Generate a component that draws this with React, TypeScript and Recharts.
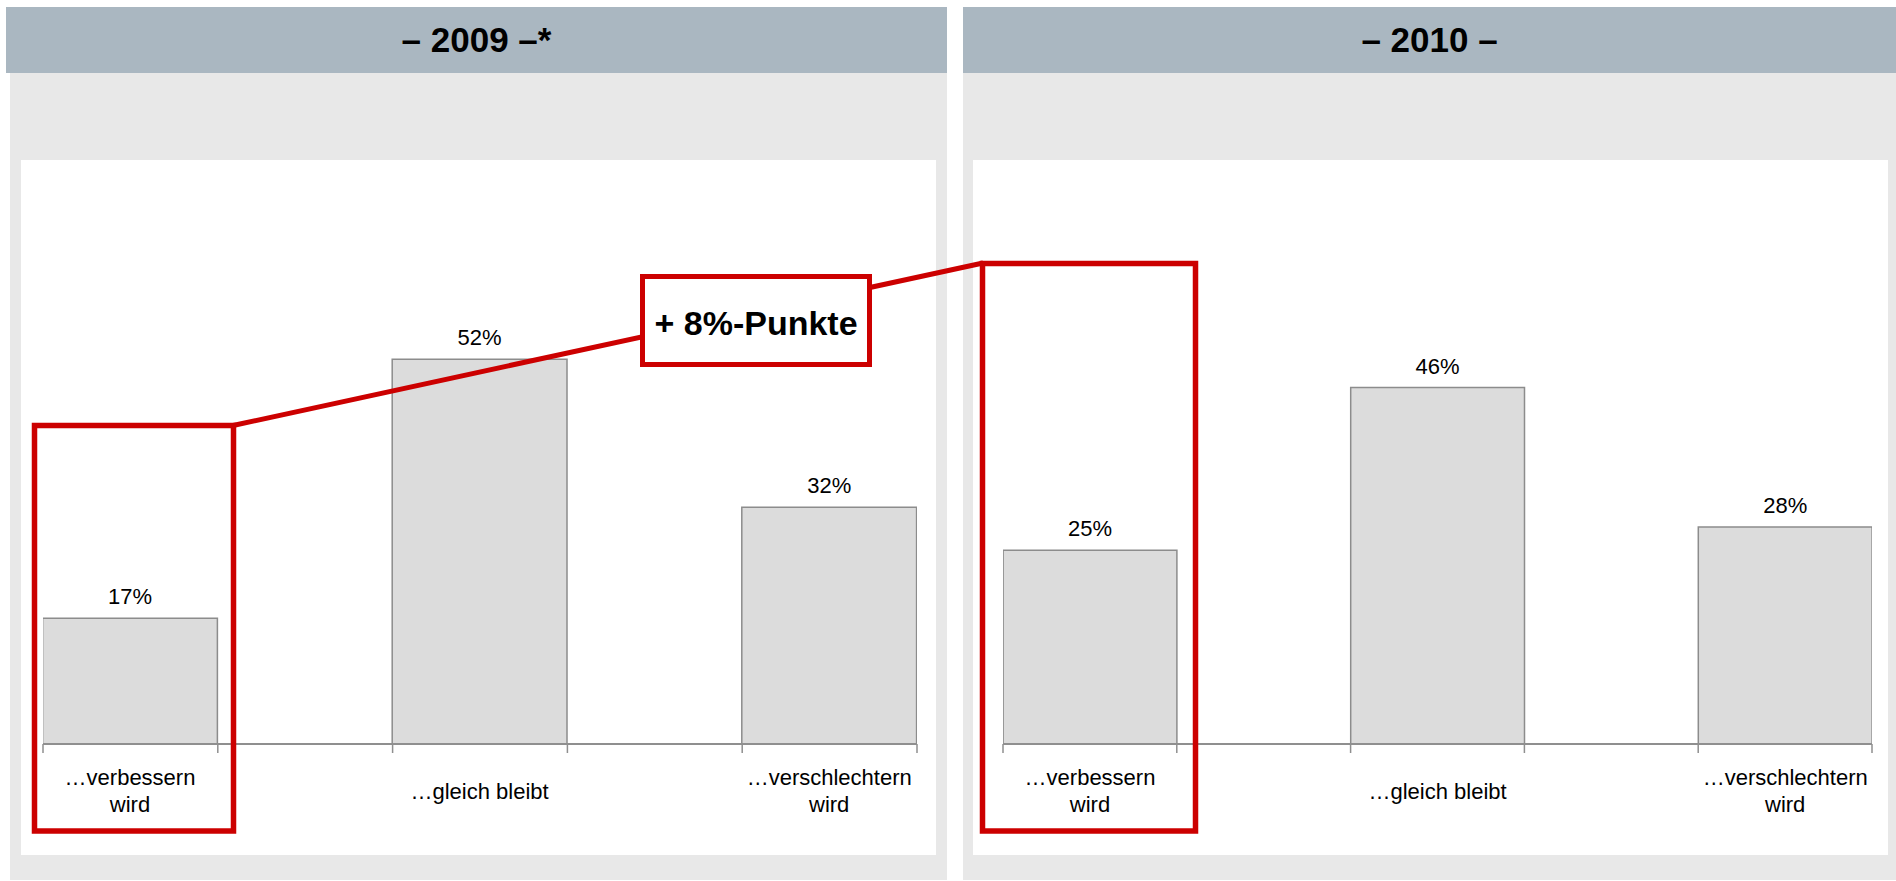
import React from 'react';
import { BarChart, Bar, XAxis, YAxis, LabelList } from 'recharts';

// ---- data ----
const categories = ['…verbessern\nwird', '…gleich bleibt', '…verschlechtern\nwird'];
const positions = [0.5, 2.5, 4.5];
const edgeTicks = [0, 1, 2, 3, 4, 5];
const values2009 = [17, 52, 32];
const values2010 = [25, 46, 28];
const titles = ['– 2009 –*', '– 2010 –'];
const changeLabel = '+ 8%-Punkte';

const FONT = '"Liberation Sans", Arial, Helvetica, sans-serif';
const RED = '#cc0000';

const buildRows = (values: number[]) =>
  values.map((v, i) => ({ pos: positions[i], value: v, label: categories[i] }));

const CategoryLabel = (props: any) => {
  const { x, y, width, height, value } = props;
  const cx = Number(x) + Number(width) / 2;
  const cy = Number(y) + Number(height) + 47;
  const lines = String(value).split('\n');
  const lh = 27;
  const first = cy - ((lines.length - 1) * lh) / 2 + 7.8;
  return (
    <text textAnchor="middle" fontSize={22} fontFamily={FONT} fill="#000">
      {lines.map((l, i) => (
        <tspan key={i} x={cx} y={first + i * lh}>
          {l}
        </tspan>
      ))}
    </text>
  );
};

const EmptyTick = () => <g />;

type PanelProps = {
  values: number[];
  left: number;
  width: number;
  marginLeft: number;
  marginRight: number;
  marginTop: number;
  yMax: number;
};

const ChartPanel = ({ values, left, width, marginLeft, marginRight, marginTop, yMax }: PanelProps) => {
  const height = 695;
  const plotW = width - marginLeft - marginRight;
  const data = buildRows(values);
  return (
    <div style={{ position: 'absolute', left, top: 160, width, height }}>
      <BarChart
        width={width}
        height={height}
        data={data}
        margin={{ top: marginTop, right: marginRight, bottom: 0, left: marginLeft }}
      >
        <YAxis hide type="number" domain={[0, yMax]} />
        <XAxis
          type="number"
          dataKey="pos"
          domain={[0, 5]}
          ticks={edgeTicks}
          tick={EmptyTick}
          tickSize={9}
          height={111}
          axisLine={{ stroke: '#8f8f8f', strokeWidth: 2 }}
          tickLine={{ stroke: '#8f8f8f', strokeWidth: 1.5 }}
          allowDataOverflow
        />
        <Bar
          dataKey="value"
          fill="#dcdcdc"
          stroke="#8c8c8c"
          strokeWidth={1.5}
          barSize={plotW / 5}
          isAnimationActive={false}
        >
          <LabelList
            dataKey="value"
            position="top"
            offset={14}
            formatter={(v: any) => `${v}%`}
            style={{ fontSize: 22, fontFamily: FONT, fill: '#000' }}
          />
          <LabelList dataKey="label" content={CategoryLabel} />
        </Bar>
      </BarChart>
    </div>
  );
};

const Header = ({ left, width, title }: { left: number; width: number; title: string }) => (
  <div
    style={{
      position: 'absolute',
      left,
      top: 7,
      width,
      height: 66,
      background: '#aab7c1',
      textAlign: 'center',
      lineHeight: '66px',
      fontFamily: FONT,
      fontWeight: 'bold',
      fontSize: 35,
      color: '#000',
    }}
  >
    {title}
  </div>
);

export default function App() {
  return (
    <div style={{ position: 'absolute', left: 0, top: 0, width: 1896, height: 881, background: '#fff', overflow: 'hidden' }}>
      {/* panel backgrounds */}
      <div style={{ position: 'absolute', left: 10, top: 73, width: 937, height: 807, background: '#e8e8e8' }} />
      <div style={{ position: 'absolute', left: 963, top: 73, width: 933, height: 807, background: '#e8e8e8' }} />
      <Header left={6} width={941} title={titles[0]} />
      <Header left={963} width={933} title={titles[1]} />
      <div style={{ position: 'absolute', left: 21, top: 160, width: 915, height: 695, background: '#fff' }} />
      <div style={{ position: 'absolute', left: 973, top: 160, width: 915, height: 695, background: '#fff' }} />

      <ChartPanel values={values2009} left={21} width={915} marginLeft={22} marginRight={19} marginTop={140} yMax={60} />
      <ChartPanel values={values2010} left={973} width={915} marginLeft={30} marginRight={16} marginTop={119} yMax={60} />

      {/* annotation overlay */}
      <svg
        width={1896}
        height={881}
        style={{ position: 'absolute', left: 0, top: 0, pointerEvents: 'none' }}
      >
        <line x1={233} y1={425.5} x2={983} y2={263} stroke={RED} strokeWidth={5} />
        <rect x={34.5} y={425.5} width={199} height={405.5} fill="none" stroke={RED} strokeWidth={5.5} />
        <rect x={982.5} y={263.5} width={213} height={567.5} fill="none" stroke={RED} strokeWidth={5.5} />
        <rect x={642.5} y={276.5} width={227} height={88} fill="#fff" stroke={RED} strokeWidth={5} />
        <text x={756} y={335} textAnchor="middle" fontFamily={FONT} fontWeight="bold" fontSize={34} fill="#000">
          {changeLabel}
        </text>
      </svg>
    </div>
  );
}
